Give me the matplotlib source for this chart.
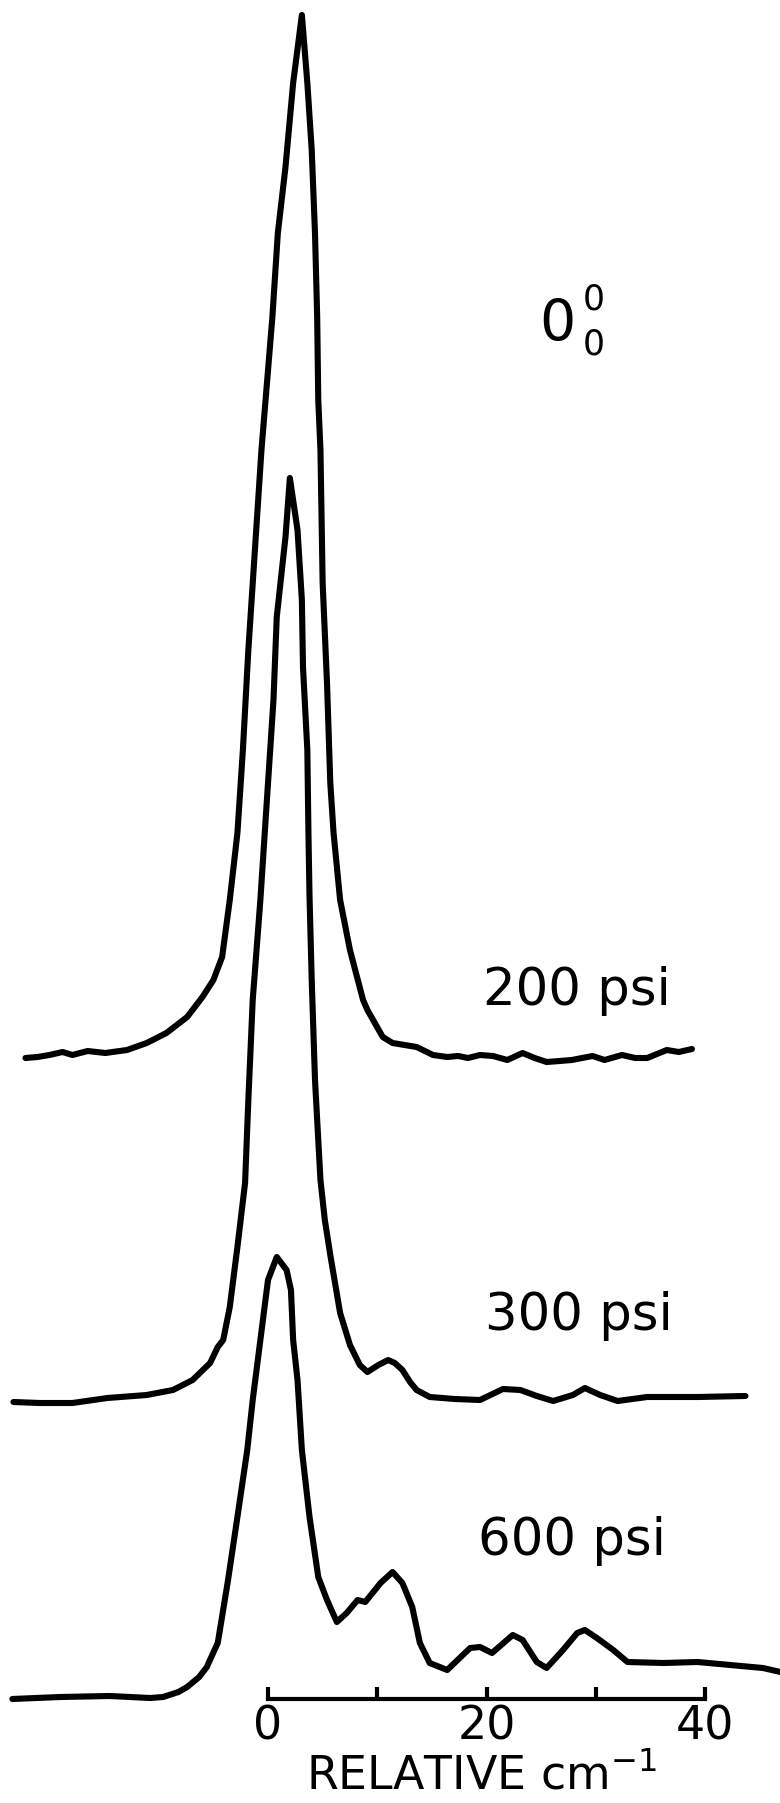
import numpy as np
import matplotlib
matplotlib.use("Agg")
import matplotlib.pyplot as plt
import matplotlib.transforms as mtransforms

# shift in cm-1 relative to the band origin
x200 = [-22.2, -21.1, -20.0, -18.8, -17.9, -16.5, -14.9, -12.9, -11.1, -9.3, -7.4, -6.0, -5.0, -4.2,
        -3.5, -2.8, -2.3, -1.8, -1.2, -0.6, 0.4, 0.9, 1.6, 2.3, 3.1, 3.6, 4.0, 4.3, 4.5, 4.6, 4.8,
        5.0, 5.4, 5.7, 6.0, 6.6, 7.5, 8.7, 9.1, 10.5, 11.4, 13.6, 15.1, 16.4, 17.4, 18.3, 19.4,
        20.6, 21.9, 23.3, 24.4, 25.5, 26.7, 27.8, 29.7, 30.8, 32.4, 33.6, 34.7, 36.5, 37.6, 38.8]
i200 = [-0.3, -0.2, 0.0, 0.3, 0.0, 0.4, 0.2, 0.5, 1.2, 2.2, 3.8, 5.8, 7.5, 9.8,
        15.5, 22.2, 30.5, 40.5, 50.5, 60.5, 73.8, 82.2, 88.8, 97.2, 104.0, 97.2, 90.5, 82.2, 73.8, 65.5, 60.5,
        47.2, 37.2, 27.2, 22.2, 15.5, 10.5, 5.5, 4.5, 1.8, 1.2, 0.8, 0.0, -0.2, -0.1, -0.3, 0.0,
        -0.1, -0.5, 0.2, -0.3, -0.7, -0.6, -0.5, -0.1, -0.5, 0.0, -0.3, -0.3, 0.5, 0.3, 0.6]

x300 = [-23.3, -20.9, -17.9, -14.7, -11.1, -8.7, -6.9, -5.3, -4.6, -4.1, -3.5, -2.8, -2.1, -1.8,
        -1.4, -0.7, 0.0, 0.5, 0.8, 1.6, 2.0, 2.7, 3.1, 3.2, 3.6, 3.7, 3.8, 4.0, 4.3, 4.8, 5.2, 5.7,
        6.6, 7.5, 8.4, 9.1, 10.1, 11.0, 11.6, 12.3, 13.0, 13.6, 14.8, 17.1, 19.4, 21.5, 23.1, 24.6,
        26.1, 27.9, 29.0, 30.4, 32.0, 34.7, 39.3, 43.7]
i300 = [-0.2, -0.3, -0.3, 0.2, 0.5, 1.0, 2.0, 3.7, 5.3, 6.0, 9.3, 15.3, 21.7, 30.0,
        40.0, 50.0, 61.7, 70.0, 78.3, 86.3, 92.2, 87.0, 80.0, 73.3, 65.0, 56.7, 50.3, 42.0, 32.0, 22.0, 18.0, 14.5,
        8.7, 5.5, 3.5, 2.8, 3.5, 4.0, 3.7, 3.0, 1.8, 1.0, 0.3, 0.1, 0.0, 1.1, 1.0, 0.4,
        -0.1, 0.5, 1.2, 0.5, -0.1, 0.3, 0.3, 0.4]

x600 = [-23.4, -19.0, -14.5, -10.8, -9.6, -8.2, -7.4, -6.3, -5.6, -4.9, -4.6, -3.7, -2.8, -1.9,
        -1.4, -0.7, 0.0, 0.8, 1.7, 2.1, 2.3, 2.7, 3.1, 3.8, 4.6, 5.4, 6.3, 7.2, 8.2, 8.9, 10.3,
        11.4, 12.3, 13.2, 13.9, 14.8, 16.4, 18.5, 19.4, 20.5, 22.4, 23.3, 24.6, 25.5, 27.0, 28.3,
        29.0, 30.1, 31.6, 32.9, 36.2, 39.3, 42.3, 45.3, 46.9]
i600 = [-0.2, 0.0, 0.1, -0.1, 0.0, 0.5, 1.0, 2.0, 3.0, 4.7, 5.4, 11.4, 18.0, 24.7,
        29.7, 35.7, 41.7, 44.0, 42.7, 40.7, 35.7, 31.7, 24.7, 18.0, 12.0, 9.7, 7.5, 8.4, 9.7, 9.5, 11.4,
        12.5, 11.4, 9.0, 5.4, 3.4, 2.7, 4.9, 5.0, 4.4, 6.2, 5.7, 3.5, 2.9, 4.7, 6.4,
        6.7, 5.9, 4.7, 3.5, 3.4, 3.5, 3.2, 2.9, 2.5]

labels = ["200 psi", "300 psi", "600 psi"]
offsets = [74.8, 40.3, 10.6]       # vertical stacking of the traces
label_pos = [(28.3, 79.8), (28.5, 47.3), (27.8, 24.8)]
tick_pos = [0, 10, 20, 30, 40]
tick_txt = ["0", "", "20", "", "40"]


def plot():
    fig = plt.figure(figsize=(7.8, 18.03), dpi=100)
    ax = fig.add_axes([0, 0, 1, 1])
    ax.set_xlim(-24.53, 46.86)
    ax.set_ylim(0, 180.3)

    for xs, ys, off in zip([x200, x300, x600], [i200, i300, i600], offsets):
        ax.plot(xs, np.array(ys) + off, "-k", lw=4.4,
                solid_joinstyle="round", solid_capstyle="round")

    for txt, (tx, ty) in zip(labels, label_pos):
        ax.text(tx, ty, txt, fontsize=37, ha="center", va="baseline")

    # band label 0 with 0 above and below
    ax.text(26.5, 146.2, "0", fontsize=41, ha="center", va="baseline")
    ax.text(29.85, 149.35, "0", fontsize=25, ha="center", va="baseline")
    ax.text(29.85, 144.85, "0", fontsize=25, ha="center", va="baseline")

    # only the bottom axis, cut to 0..40
    for s in ["left", "right", "top"]:
        ax.spines[s].set_visible(False)
    ax.spines["bottom"].set_position(("data", 10.4))
    ax.spines["bottom"].set_bounds(0, 40)
    ax.spines["bottom"].set_linewidth(3)
    ax.set_yticks([])
    ax.set_xticks(tick_pos)
    ax.set_xticklabels(tick_txt)
    ax.tick_params(axis="x", direction="in", length=9, width=3, pad=4, labelsize=33)

    ax.set_xlabel("RELATIVE cm$^{-1}$", fontsize=33, va="baseline")
    tr = mtransforms.blended_transform_factory(ax.transData, ax.transData)
    ax.xaxis.set_label_coords(19.5, 1.4, transform=tr)

    fig.savefig("out.png", dpi=100, facecolor="w")


if __name__ == "__main__":
    plot()
